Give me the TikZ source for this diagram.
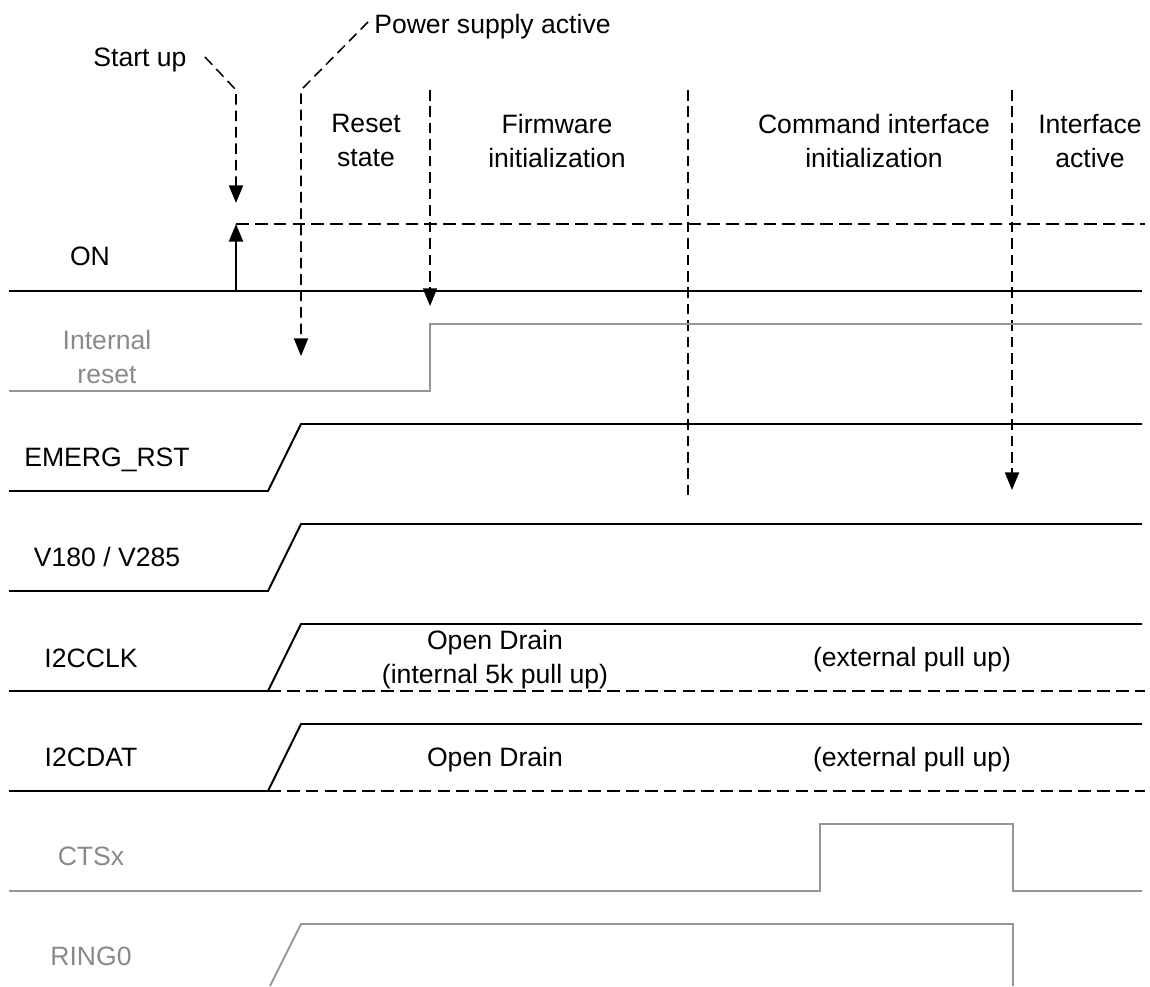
\documentclass[tikz,border=0pt]{standalone}
\usepackage{fontspec}
\setmainfont{Liberation Sans}
\usetikzlibrary{arrows.meta}

\definecolor{sgray}{RGB}{138,138,138}
\definecolor{lgray}{RGB}{150,150,150}

\tikzset{
    sig/.style={line width=1.4pt,line join=miter},
    gsig/.style={line width=1.4pt,draw=lgray},
    float/.style={line width=2.1pt,dash pattern=on 9pt off 4.4pt},
    guide/.style={line width=1.1pt,dash pattern=on 7.5pt off 4.2pt},
    tip/.style={-{Triangle[length=12.5pt,width=10pt]}},
    lbl/.style={font=\fontsize{18.9}{24.2}\selectfont,align=center,inner sep=0pt},
}

\begin{document}
\begin{tikzpicture}[x=0.025cm,y=-0.025cm]
    \useasboundingbox (0,0) rectangle (1150,986);
    \def\xl{9}
    \def\xr{268}
    \def\xend{1142}
    \def\xdash{1145}
    \def\top{90}

    % phases
    \node[lbl,anchor=north] (reset) at (366,114) {Reset\\state};
    \node[lbl,anchor=north] (fwinit) at (557,114) {Firmware\\initialization};
    \node[lbl,anchor=north] (cmdinit) at (874,114) {Command interface\\initialization};
    \node[lbl,anchor=north] (active) at (1090,114) {Interface\\active};

    % events
    \node[lbl,anchor=base] (startup) at (140,66) {Start up};
    \node[lbl,anchor=base west] (power) at (374,33) {Power supply active};
    \coordinate (su0) at (205,57);
    \coordinate (su1) at (236,\top);
    \coordinate (su2) at (236,203);
    \coordinate (ps0) at (368,22);
    \coordinate (ps1) at (301,\top);
    \coordinate (ps2) at (301,356);
    \draw[guide,tip] (su0) -- (su1) -- (su2);
    \draw[guide,tip] (ps0) -- (ps1) -- (ps2);
    \draw[guide,tip] (430,\top) -- (430,306);
    \draw[guide] (688,\top) -- (688,497);
    \draw[guide,tip] (1012,\top) -- (1012,490);

    % signal names
    \node[lbl,anchor=base] (on) at (90,265) {ON};
    \node[lbl,anchor=north,text=sgray] (intrst) at (107,330) {Internal\\reset};
    \node[lbl,anchor=base] (emerg) at (107,466) {EMERG\_RST};
    \node[lbl,anchor=base] (vio) at (107,566) {V180 / V285};
    \node[lbl,anchor=base] (clk) at (91,667) {I2CCLK};
    \node[lbl,anchor=base] (dat) at (91,766) {I2CDAT};
    \node[lbl,anchor=base,text=sgray] (cts) at (91,865) {CTSx};
    \node[lbl,anchor=base,text=sgray] (ring) at (91,965) {RING0};

    % ON
    \draw[sig] (\xl,291) -- (\xend,291);
    \draw[float] (236,224) -- (\xdash,224);
    \draw[sig,tip] (236,291) -- (236,224);

    % internal reset
    \draw[gsig] (\xl,391) -- (430,391) -- (430,324) -- (\xend,324);

    % EMERG_RST, V180, I2CCLK, I2CDAT
    \foreach \lo in {491,591,691,791} {
        \draw[sig] (\xl,\lo) -- (\xr,\lo) -- ({\xr+33},{\lo-67}) -- (\xend,{\lo-67});
    }
    \foreach \lo in {691,791} {
        \draw[float] (\xr,\lo) -- (\xdash,\lo);
    }
    \node[lbl,anchor=north] (clkod) at (495,630) {Open Drain\\(internal 5k pull up)};
    \node[lbl,anchor=base] (clkext) at (912,666) {(external pull up)};
    \node[lbl,anchor=base] (datod) at (495,766) {Open Drain};
    \node[lbl,anchor=base] (datext) at (912,766) {(external pull up)};

    % CTSx, RING0
    \draw[gsig] (\xl,891) -- (820,891) -- (820,824) -- (1013,824) -- (1013,891) -- (\xend,891);
    \draw[gsig] (270,986) -- (301,924) -- (1013,924) -- (1013,986);
\end{tikzpicture}
\end{document}
